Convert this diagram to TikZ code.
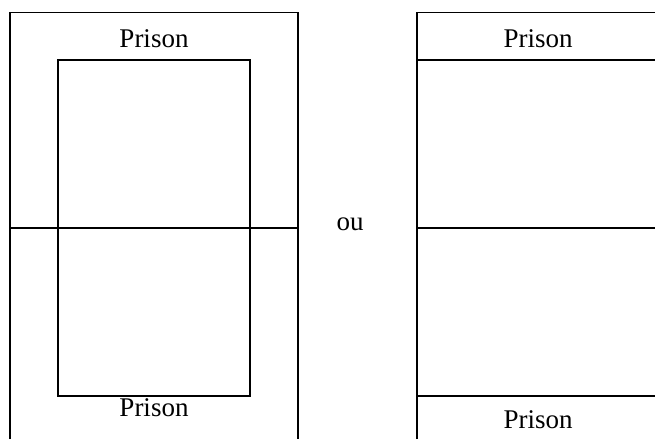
\documentclass[tikz,border=0pt]{standalone}
\usepackage{fontspec}
\setmainfont{Liberation Serif}
\begin{document}
\begin{tikzpicture}[x=1pt,y=-1pt,
  wall/.style={line width=1.5pt,black},
  lbl/.style={font=\fontsize{27}{30}\selectfont,inner sep=0pt,anchor=base}]
\useasboundingbox (0,0) rectangle (655,439);
% left figure
\coordinate (lbl) at (10,439);
\coordinate (ltl) at (10,12.5);
\coordinate (ltr) at (298,12.5);
\coordinate (lbr) at (298,439);
\draw[wall] (lbl) -- (ltl) -- (ltr) -- (lbr);
\draw[wall] (58,60) rectangle (250,396);
\coordinate (lml) at (10,228);
\coordinate (lmr) at (298,228);
\draw[wall] (lml) -- (lmr);
\node[lbl] (pl1) at (154,47) {Prison};
\node[lbl] (pl2) at (154,416) {Prison};
% middle
\node[font=\fontsize{27}{30}\selectfont,inner sep=0pt] (ou) at (350,224) {ou};
% right figure
\coordinate (rbl) at (417,439);
\coordinate (rtl) at (417,12.5);
\coordinate (rtr) at (656,12.5);
\draw[wall] (rbl) -- (rtl) -- (rtr);
\draw[wall] (417,60) -- (656,60);
\draw[wall] (417,228) -- (656,228);
\draw[wall] (417,396) -- (656,396);
\node[lbl] (pr1) at (538,47) {Prison};
\node[lbl] (pr2) at (538,428) {Prison};
\end{tikzpicture}
\end{document}
